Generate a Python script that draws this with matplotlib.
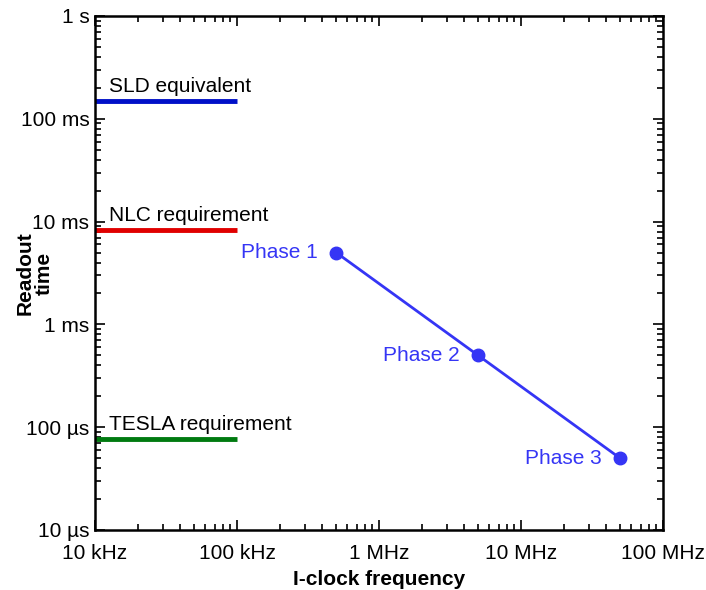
import numpy as np
import matplotlib
matplotlib.use("Agg")
import matplotlib.pyplot as plt
from matplotlib.ticker import FixedLocator, FixedFormatter, LogLocator, NullFormatter

plt.rcParams["font.family"] = ["Liberation Sans", "DejaVu Sans"]

# ----------- Data -----------
req_names = ["SLD equivalent", "NLC requirement", "TESLA requirement"]
req_times = [0.15, 8.3e-3, 76e-6]          # seconds
req_colors = ["#0010c8", "#e00000", "#007a10"]
req_span = [1e4, 1e5]                       # Hz

phase_names = ["Phase 1", "Phase 2", "Phase 3"]
phase_freq = [5e5, 5e6, 5e7]                # Hz
phase_time = [5e-3, 5e-4, 5e-5]             # seconds
phase_color = "#3535f5"

x_ticks = [1e4, 1e5, 1e6, 1e7, 1e8]
x_labels = ["10 kHz", "100 kHz", "1 MHz", "10 MHz", "100 MHz"]
y_ticks = [1e-5, 1e-4, 1e-3, 1e-2, 1e-1, 1]
y_labels = ["10 µs", "100 µs", "1 ms", "10 ms", "100 ms", "1 s"]

FS = 15

# ----------- Plot -----------
fig = plt.figure(figsize=(7.06, 5.90), dpi=100)
ax = fig.add_axes([0.1346, 0.1017, 0.8041, 0.8712])
ax.set_xscale("log")
ax.set_yscale("log")
ax.set_xlim(1e4, 1e8)
ax.set_ylim(1e-5, 1)

for name, t, c in zip(req_names, req_times, req_colors):
    ax.plot(req_span, [t, t], color=c, lw=3.5, solid_capstyle="butt")
    ax.annotate(name, (req_span[0], t), xytext=(10, 6.5), textcoords="offset points",
                fontsize=FS, ha="left", va="baseline")

ax.plot(phase_freq, phase_time, color=phase_color, lw=2, marker="o", ms=9)
for name, f, t in zip(phase_names, phase_freq, phase_time):
    ax.annotate(name, (f, t), xytext=(-13, 0), textcoords="offset points",
                fontsize=FS, ha="right", va="center", color=phase_color)

ax.xaxis.set_major_locator(FixedLocator(x_ticks))
ax.xaxis.set_major_formatter(FixedFormatter(x_labels))
ax.yaxis.set_major_locator(FixedLocator(y_ticks))
ax.yaxis.set_major_formatter(FixedFormatter(y_labels))
for axis in (ax.xaxis, ax.yaxis):
    axis.set_minor_locator(LogLocator(base=10, subs=np.arange(2, 10)))
    axis.set_minor_formatter(NullFormatter())

ax.tick_params(which="both", direction="in", top=True, right=True, labelsize=FS, width=1.2)
ax.tick_params(which="major", length=7)
ax.tick_params(which="minor", length=4)
ax.tick_params(axis="x", which="major", pad=10)
ax.tick_params(axis="y", which="major", pad=4)
for s in ax.spines.values():
    s.set_linewidth(1.8)

ax.set_xlabel("I-clock frequency", fontsize=FS, fontweight="bold", labelpad=5)
ax.set_ylabel("Readout\ntime", fontsize=FS, fontweight="bold", linespacing=1.05)
ax.yaxis.set_label_coords(-0.072, 0.5)

fig.savefig("out.png", dpi=100)
